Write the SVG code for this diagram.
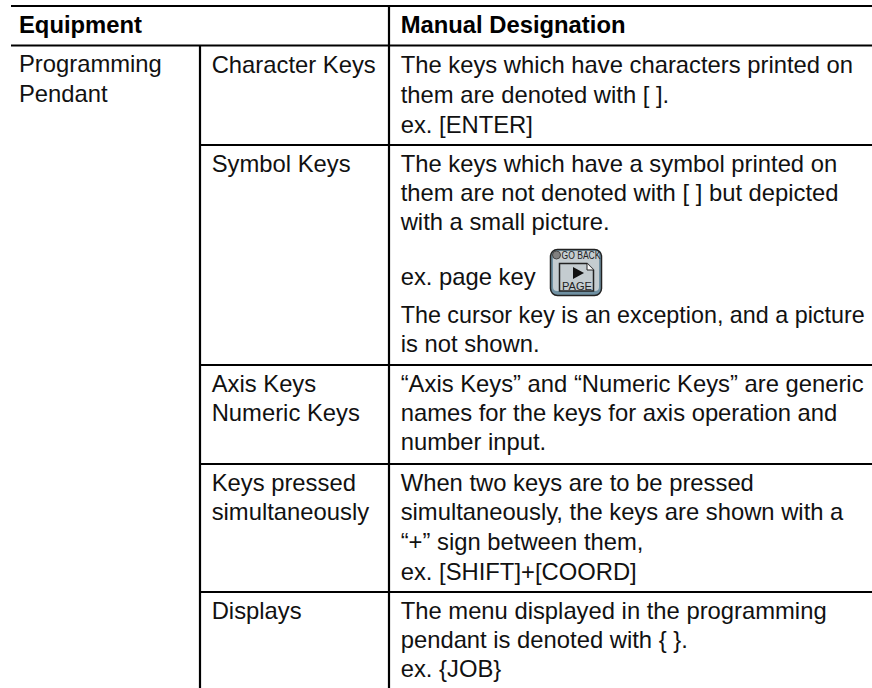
<svg xmlns="http://www.w3.org/2000/svg" width="872" height="688" viewBox="0 0 872 688">
<style>
text{font-family:"Liberation Sans",Arial,sans-serif;font-size:23.8px;fill:#111}
.b{font-weight:bold;fill:#000}
.l{stroke:#000;stroke-width:2.2;fill:none}
.k{font-size:10px;fill:#222}
</style>
<rect width="872" height="688" fill="#fff"/>
<g id="connectors">
<path class="l" d="M11 6H872M11 45.500H872M200 45V688M389 6V688M200 145H872M200 365H872M200 464H872M200 592H872"/>
</g>
<g id="key">
<rect x="550.500" y="249.500" width="51" height="46" rx="7" fill="#6f90a2" stroke="#222" stroke-width="1.500"/>
<rect x="553" y="251" width="46" height="40" rx="4" fill="#c4ccd0"/>
<circle cx="556.500" cy="255" r="4" fill="#808080" stroke="#444"/>
<path d="M559.500 263.500H587L593.500 270V291H559.500Z" fill="#c4ccd0" stroke="#222" stroke-width="1.500"/>
<path d="M587 263.500V270H593.500" fill="#fff" stroke="#222"/>
<polygon points="573,267 584,273 573,279" fill="#111"/>
<text class="k" x="581" y="259" text-anchor="middle" textLength="39" lengthAdjust="spacingAndGlyphs">GO BACK</text>
<text class="k" x="577" y="290" text-anchor="middle" textLength="30" lengthAdjust="spacingAndGlyphs">PAGE</text>
</g>
<g id="text">
<text class="b" x="19" y="33">Equipment</text>
<text class="b" x="400.700" y="33">Manual Designation</text>
<text x="19" y="72">Programming</text><text x="19" y="102">Pendant</text>
<text x="211.700" y="72.500">Character Keys</text>
<text x="400.700" y="72.500">The keys which have characters printed on</text>
<text x="400.700" y="102.500">them are denoted with [ ].</text>
<text x="400.700" y="132.500">ex. [ENTER]</text>
<text x="211.700" y="171.500">Symbol Keys</text>
<text x="400.700" y="171.500">The keys which have a symbol printed on</text>
<text x="400.700" y="200.500">them are not denoted with [ ] but depicted</text>
<text x="400.700" y="229.500">with a small picture.</text>
<text x="400.700" y="285">ex. page key</text>
<text x="400.700" y="322.500" textLength="464" lengthAdjust="spacingAndGlyphs">The cursor key is an exception, and a picture</text>
<text x="400.700" y="351.500">is not shown.</text>
<text x="211.700" y="391.500">Axis Keys</text><text x="211.700" y="421">Numeric Keys</text>
<text x="400.700" y="391.500">“Axis Keys” and “Numeric Keys” are generic</text>
<text x="400.700" y="421">names for the keys for axis operation and</text>
<text x="400.700" y="450">number input.</text>
<text x="211.700" y="490.500">Keys pressed</text><text x="211.700" y="520">simultaneously</text>
<text x="400.700" y="490.500">When two keys are to be pressed</text>
<text x="400.700" y="520">simultaneously, the keys are shown with a</text>
<text x="400.700" y="549.500">“+” sign between them,</text>
<text x="400.700" y="579.500">ex. [SHIFT]+[COORD]</text>
<text x="211.700" y="619">Displays</text>
<text x="400.700" y="619">The menu displayed in the programming</text>
<text x="400.700" y="648">pendant is denoted with { }.</text>
<text x="400.700" y="677">ex. {JOB}</text>
</g>
</svg>
